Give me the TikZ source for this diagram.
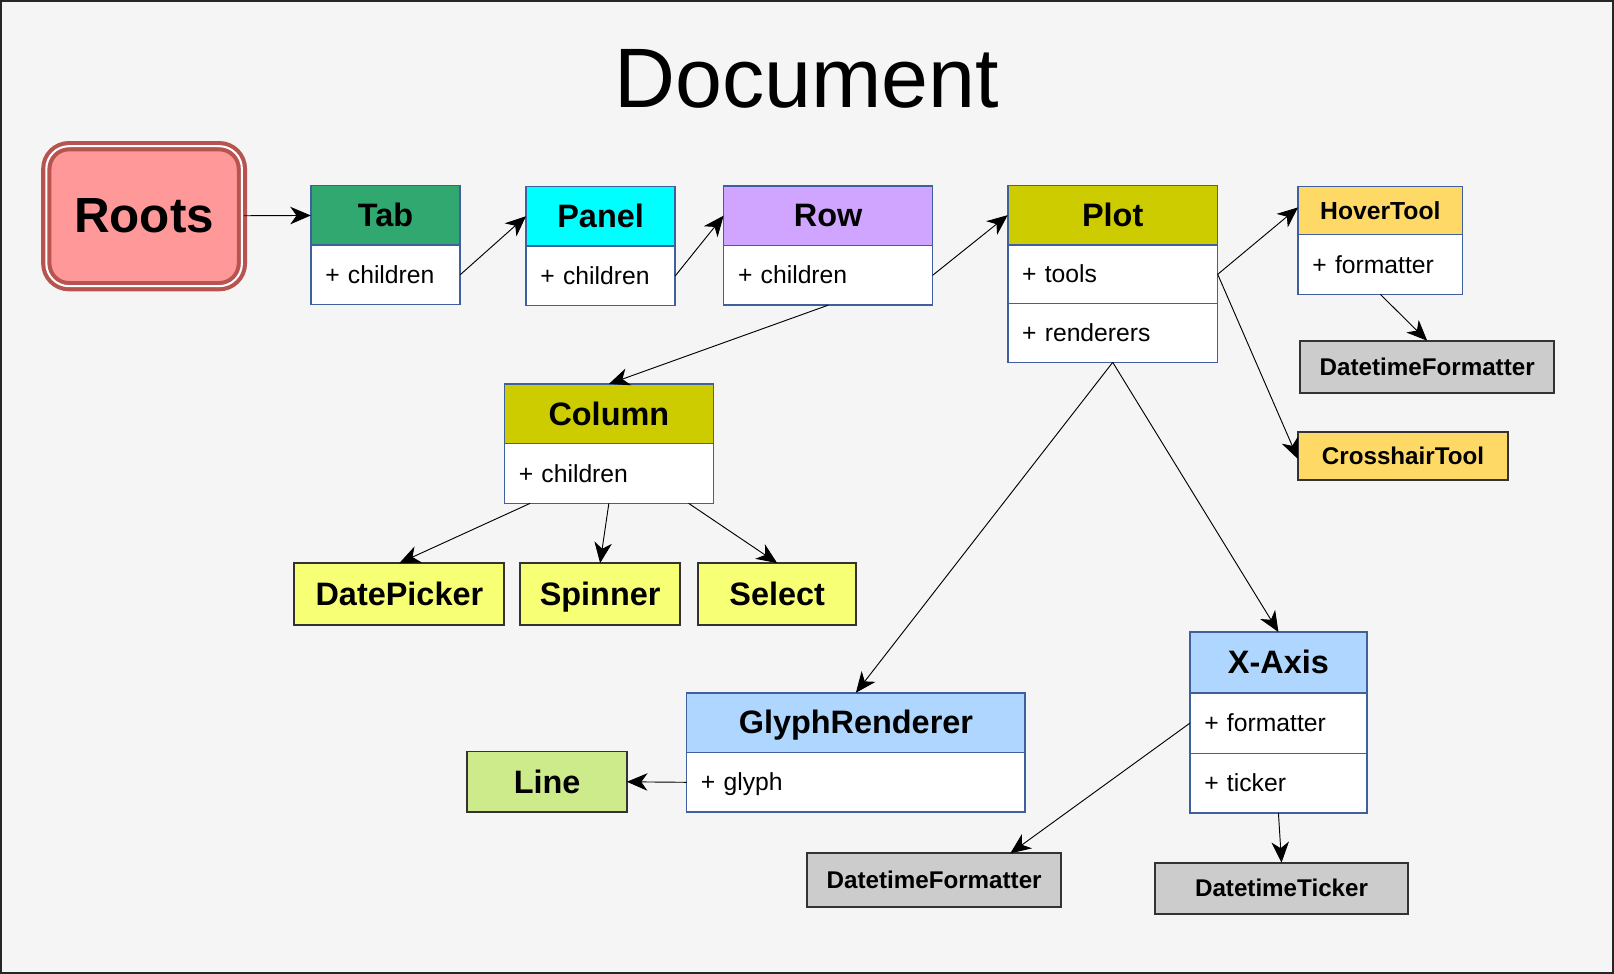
\documentclass[tikz,border=0pt]{standalone}
\usepackage{fontspec}
\setmainfont{Liberation Sans}
\usepackage{tikz}
\usetikzlibrary{positioning, arrows.meta}

\definecolor{bgcol}{HTML}{F5F5F5}
\definecolor{umlblue}{HTML}{3F5F9F}
\definecolor{leafline}{HTML}{333333}
\definecolor{rootfill}{HTML}{FF9999}
\definecolor{rootline}{HTML}{B85450}
\definecolor{tabgreen}{HTML}{32A871}
\definecolor{panelcyan}{HTML}{00FFFF}
\definecolor{rowpurple}{HTML}{D0A5FF}
\definecolor{olive}{HTML}{CCCC00}
\definecolor{toolyellow}{HTML}{FFD966}
\definecolor{widgetyellow}{HTML}{F7FF75}
\definecolor{linegreen}{HTML}{CDEB8B}
\definecolor{axisblue}{HTML}{AED6FF}
\definecolor{modelgray}{HTML}{CCCCCC}

\begin{document}
\begin{tikzpicture}[x=1pt, y=-1pt,
    hdr/.style={draw=umlblue, line width=1.5pt, inner sep=0pt, outer sep=0pt, minimum height=58pt,
                text height=28.5pt, text depth=6.7pt, font=\fontsize{31.5}{36}\selectfont\bfseries},
    fld/.style={draw=umlblue, fill=white, line width=1.5pt, inner xsep=14pt, inner ysep=0pt, outer sep=0pt,
                minimum height=58pt, text width=#1, text height=21.7pt, text depth=5.1pt,
                align=left, font=\fontsize{24}{28}\selectfont},
    leaf/.style={draw=leafline, line width=1.8pt, inner sep=0pt, outer sep=0pt,
                text height=28.5pt, text depth=6.7pt, font=\fontsize{31.5}{36}\selectfont\bfseries},
    small/.style={leaf, text height=21.3pt, text depth=5pt, font=\fontsize{23.5}{28}\selectfont\bfseries},
    conn/.style={-{Stealth[length=20pt, width=17pt, inset=6pt]}, line width=0.9pt}]

      % page
      \fill[bgcol] (0,0) rectangle (1568,946);
      \draw[line width=1.5pt, black!85] (0.75,0.75) rectangle (1567.25,945.25);
      \useasboundingbox (0,0) rectangle (1568,946);

      \node[font=\fontsize{82}{90}\selectfont]  (doc)  at (784, 77)  {Document};

      \node[draw=rootline, double=white, double distance=2pt, line width=4pt, fill=rootfill,
            rounded corners=22pt, minimum width=190pt, minimum height=136pt,
            font=\fontsize{48}{54}\selectfont\bfseries]  (roots)  at (140, 210)  {Roots};

      % containers
      \node[hdr, fill=tabgreen,  minimum width=145pt]  (tab)    at (374.5, 209)  {Tab};
      \node[fld=117pt, below=0pt of tab]                (tabch)               {+ children};

      \node[hdr, fill=panelcyan, minimum width=145pt]  (panel)  at (583.5, 210)  {Panel};
      \node[fld=117pt, below=0pt of panel]              (panelch)             {+ children};

      \node[hdr, fill=rowpurple, minimum width=203pt]  (row)    at (804.5, 209.5) {Row};
      \node[fld=175pt, below=0pt of row]                (rowch)               {+ children};

      \node[hdr, fill=olive,     minimum width=203pt]  (column) at (591.5, 402)  {Column};
      \node[fld=175pt, below=0pt of column]             (colch)               {+ children};

      % plot
      \node[hdr, fill=olive,     minimum width=204pt]  (plot)   at (1081, 209)   {Plot};
      \node[fld=176pt, minimum height=57pt, below=0pt of plot]      (plottools)  {+ tools};
      \node[fld=176pt, minimum height=57pt, below=0pt of plottools] (plotrend)   {+ renderers};

      \node[hdr, fill=toolyellow, minimum width=160pt, minimum height=47pt, text height=21.7pt, text depth=5.1pt,
            font=\fontsize{24}{28}\selectfont\bfseries]  (hover)  at (1341, 204.5) {HoverTool};
      \node[fld=132pt, below=0pt of hover]              (hoverfmt)            {+ formatter};

      \node[small, fill=modelgray,  minimum width=247pt, minimum height=51pt]  (hdtf)   at (1386.5, 356.5) {DatetimeFormatter};
      \node[small, fill=toolyellow, minimum width=204pt, minimum height=46pt]  (cross)  at (1363, 443)     {CrosshairTool};

      % widgets
      \node[leaf, fill=widgetyellow, minimum width=204pt, minimum height=60pt]  (dpick)   at (388, 577)  {DatePicker};
      \node[leaf, fill=widgetyellow, minimum width=156pt, minimum height=60pt]  (spin)    at (583, 577)  {Spinner};
      \node[leaf, fill=widgetyellow, minimum width=154pt, minimum height=60pt]  (sel)     at (755, 577)  {Select};

      % renderers
      \node[hdr, fill=axisblue,  minimum width=329pt]  (glyph)  at (831.5, 702)  {GlyphRenderer};
      \node[fld=301pt, below=0pt of glyph]              (glyphgl)             {+ glyph};
      \node[leaf, fill=linegreen, minimum width=155pt, minimum height=59pt]  (line)  at (531.5, 759.5) {Line};

      \node[hdr, fill=axisblue,  minimum width=172pt, minimum height=59pt]  (xaxis)  at (1242, 643.5) {X-Axis};
      \node[fld=144pt, minimum height=59pt, below=0pt of xaxis]  (xfmt)   {+ formatter};
      \node[fld=144pt, below=0pt of xfmt]                         (xtick)  {+ ticker};

      \node[small, fill=modelgray, minimum width=247pt, minimum height=52pt]  (xdtf)   at (907.5, 855)  {DatetimeFormatter};
      \node[small, fill=modelgray, minimum width=246pt, minimum height=50pt]  (xdtt)   at (1245, 863)   {DatetimeTicker};

      \draw[conn] (roots) -- (tab);
      \draw[conn] (tabch.east) -- (panel.west);
      \draw[conn] (panelch.east) -- (row.west);
      \draw[conn] (rowch.east) -- (plot.west);

      \draw[conn] (rowch.south) -- (column.north);
      \draw[conn] ([xshift=25pt]colch.south west) -- (dpick.north);
      \draw[conn] (colch.south) -- (spin.north);
      \draw[conn] ([xshift=-24pt]colch.south east) -- (sel.north);

      \draw[conn] (plottools.east) -- ([yshift=3pt]hover.west);
      \draw[conn] (plottools.east) -- ([yshift=-3pt]cross.west);
      \draw[conn] (hoverfmt.south) -- (hdtf.north);

      \draw[conn] (plotrend.south) -- (glyph.north);
      \draw[conn] (plotrend.south) -- (xaxis.north);
      \draw[conn] (glyphgl.west) -- (line.east);
      \draw[conn] (xfmt.west) -- ([xshift=74pt]xdtf.north);
      \draw[conn] (xtick.south) -- (xdtt.north);
    \end{tikzpicture}
\end{document}
